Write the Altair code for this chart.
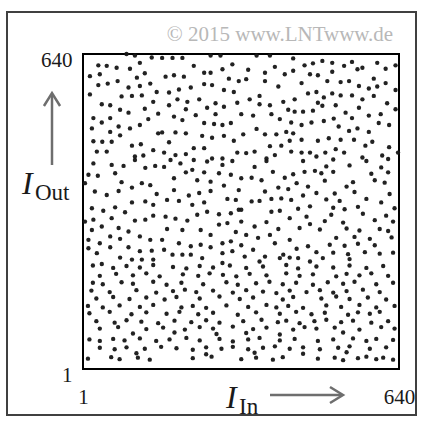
import altair as alt
import pandas as pd

# Interleaver mapping: input index -> output index (K = 640)
# Upper band (output index roughly 430..640)
in_upper = [
    89, 106, 140, 116, 32, 49, 69, 96, 15, 35, 110, 126, 32, 51, 71, 93, 116, 137,
    15, 79, 100, 120, 150, 39, 56, 143, 76, 93, 126, 153, 22, 56, 39, 133, 73, 96,
    116, 19, 56, 76, 153, 22, 40, 59, 100, 118, 29, 49, 106, 123, 143,
    161, 182, 202, 259, 279, 225, 303, 283, 168, 185, 205, 246, 259, 296, 316, 246,
    262, 175, 195, 219, 286, 306, 175, 192, 212, 236, 252, 269, 286, 209, 313, 185,
    202, 229, 269, 246, 266, 283, 300, 188, 209, 161, 242, 262, 286, 306, 175, 225,
    246, 188, 209, 165, 262, 283, 313,
    352, 379, 426, 466, 449, 335, 389, 409, 426, 369, 460, 476, 331, 369, 396, 443,
    358, 338, 358, 379, 406, 429, 456, 473, 476, 321, 345, 382, 399, 416, 429, 446,
    466, 422, 443, 463, 352, 369, 392, 412, 426, 325, 419, 443, 476, 379, 402, 331,
    348, 389, 422, 443, 460, 473, 372,
    485, 505, 529, 545, 566, 596, 613, 633, 556, 505, 495, 522, 539, 589, 613, 559,
    579, 596, 633, 488, 505, 522, 545, 566, 589, 485, 512, 616, 633, 532, 545, 559,
    579, 603, 488, 508, 518, 539, 556, 579, 599, 620, 498, 522, 549, 586, 572, 620,
    491, 512, 529, 566, 606, 638,
]
out_upper = [
    640, 637, 633, 622, 617, 616, 612, 610, 595, 599, 592, 601, 577, 580, 585, 572, 575, 580,
    558, 554, 555, 556, 563, 538, 536, 543, 527, 521, 529, 519, 510, 510, 501, 508, 493, 489,
    496, 489, 482, 475, 479, 463, 462, 462, 454, 457, 442, 442, 432, 434, 445,
    632, 632, 632, 637, 637, 616, 619, 609, 594, 597, 594, 602, 602, 590, 585, 579,
    577, 562, 568, 572, 567, 563, 536, 548, 543, 548, 531, 540, 533, 528, 541, 513,
    506, 516, 518, 500, 498, 496, 500, 481, 479, 481, 474, 470, 474, 464, 461, 449,
    449, 435, 437, 440, 428, 428, 440,
    637, 637, 631, 621, 617, 608, 614, 599, 606, 602, 599, 597, 589, 585, 574, 581,
    555, 548, 538, 536, 543, 548, 560, 563, 541, 518, 515, 518, 508, 527, 523, 523,
    525, 501, 496, 501, 488, 477, 477, 482, 479, 477, 464, 466, 464, 453, 454, 439,
    442, 435, 442, 440, 440, 432, 428,
    626, 622, 616, 624, 612, 622, 610, 617, 609, 604, 585, 583, 585, 590, 581, 575,
    570, 574, 567, 552, 560, 556, 556, 548, 555, 535, 536, 540, 528, 521, 510, 531,
    515, 518, 504, 509, 493, 484, 489, 482, 500, 496, 469, 466, 466, 462, 454, 451,
    440, 447, 440, 430, 434, 440,
]

# Middle band (output index roughly 214..430)
in_middle = [
    22, 59, 83, 106, 127, 147, 12, 31, 66, 5, 79, 100, 120, 137, 25, 49, 73, 150,
    100, 127, 143, 19, 42, 66, 86, 106, 127, 143, 22, 59, 5, 39, 19, 73, 93, 116,
    137, 12, 56, 76, 35, 93, 56, 12, 116, 140, 29, 76, 100, 120, 143, 39,
    178, 198, 225, 252, 283, 303, 165, 209, 222, 246, 276, 300, 185, 232, 259, 286,
    316, 185, 215, 236, 259, 171, 195, 222, 246, 293, 310, 168, 188, 212, 232, 252,
    276, 300, 316, 171, 202, 239, 259, 276, 293, 310, 161, 195, 219, 239, 259, 283,
    300, 165, 182, 202, 219, 242, 283, 303, 283,
    372, 446, 348, 385, 426, 449, 470, 321, 342, 362, 409, 433, 369, 396, 416, 456,
    473, 342, 358, 382, 402, 422, 446, 321, 382, 399, 419, 436, 460, 453, 321, 372,
    348, 396, 439, 460, 331, 355, 379, 419, 321, 345, 389, 433, 456, 406, 473, 328,
    369, 399, 419, 436, 358, 460,
    507, 574, 618, 493, 540, 604, 483, 507, 584, 618, 490, 547, 591, 611, 534, 510,
    550, 621, 493, 520, 574, 604, 507, 530, 557, 631, 503, 567, 614, 490, 527, 591,
    628, 480, 534, 560, 601, 618, 513, 550, 581, 625, 500, 530, 557, 591, 507, 537,
    571, 601, 628, 486, 540,
]
out_middle = [
    418, 415, 413, 425, 409, 413, 395, 393, 398, 378, 380, 369, 378, 374, 361, 354, 362, 356,
    339, 341, 334, 327, 322, 329, 319, 302, 304, 312, 304, 307, 300, 290, 283, 287, 280, 270,
    263, 263, 270, 265, 256, 248, 248, 246, 240, 241, 236, 227, 223, 223, 223, 214,
    425, 418, 425, 422, 415, 423, 411, 400, 405, 400, 398, 395, 388, 384, 381, 373,
    364, 364, 353, 358, 362, 344, 342, 334, 339, 346, 344, 310, 306, 302, 314, 320,
    315, 317, 324, 285, 283, 283, 273, 294, 297, 279, 263, 256, 250, 253, 248, 256,
    260, 243, 233, 233, 233, 226, 236, 240, 216,
    423, 423, 411, 401, 396, 401, 403, 388, 389, 384, 389, 378, 361, 369, 366, 371,
    358, 341, 342, 346, 347, 344, 353, 324, 320, 322, 307, 326, 331, 310, 300, 299,
    290, 285, 287, 295, 273, 267, 273, 263, 252, 243, 256, 245, 250, 233, 238, 229,
    229, 226, 227, 226, 219, 219,
    426, 423, 427, 412, 414, 410, 398, 401, 397, 400, 383, 380, 384, 379, 371, 357,
    360, 356, 345, 342, 346, 339, 328, 325, 330, 327, 314, 316, 312, 301, 298, 303,
    300, 284, 286, 282, 285, 281, 267, 269, 265, 268, 253, 251, 255, 252, 237, 234,
    238, 235, 237, 226, 224,
]

# Lower band (output index 1..214)
in_lower = [
    21, 62, 89, 116, 143, 183, 210, 237, 264, 298, 331, 365, 412, 436, 473, 507, 540, 574, 608,
    35, 68, 102, 129, 156, 203, 234, 257, 284, 311, 338, 372, 412, 439, 466, 513, 534, 560, 584, 618,
    21, 41, 79, 102, 143, 170, 200, 244, 291, 314, 351, 378, 405, 432, 466, 496, 527, 550, 594, 628,
    18, 55, 109, 149, 183, 207, 230, 264, 304, 331, 365, 392, 419, 453, 480, 507, 534, 567, 601,
    28, 62, 95, 129, 166, 190, 237, 277, 318, 345, 405, 426, 483, 513, 540, 577, 614,
    11, 41, 75, 116, 143, 200, 223, 250, 291, 335, 372, 392, 416, 446, 493, 523, 560, 594, 631,
    14, 55, 99, 129, 170, 196, 234, 264, 314, 351, 399, 432, 463, 490, 537, 557, 581, 601,
    28, 65, 89, 119, 153, 186, 220, 250, 277, 325, 362, 395, 412, 439, 469, 493, 523, 547, 584, 618,
    35, 72, 129, 163, 207, 237, 264, 304, 345, 372, 426, 449, 473, 510, 560, 604, 631,
    102, 186, 271, 331, 399, 527,
    14, 35, 62, 85, 116, 149, 176, 210, 237, 277, 304, 335, 358, 399, 429, 476, 507, 547, 574, 594, 628,
    35, 65, 89, 126, 159, 190, 223, 250, 281, 304, 335, 365, 389, 419, 446, 480, 517, 540, 581, 614,
    109, 250, 348, 446, 534,
    11, 58, 75, 112, 136, 223, 261, 321, 351, 385, 405, 476, 510, 527, 557, 574, 594, 608, 628,
]
out_lower = [
    211, 206, 210, 207, 212, 208, 205, 210, 207, 211, 206, 209, 212, 205, 209, 207, 211, 206, 210,
    190, 194, 191, 195, 189, 193, 190, 195, 192, 189, 194, 191, 195, 190, 193, 189, 194, 191, 195, 190,
    176, 173, 177, 174, 178, 172, 176, 173, 177, 172, 175, 178, 173, 176, 172, 177, 174, 178, 173, 176,
    160, 157, 161, 156, 159, 162, 157, 160, 156, 161, 158, 155, 160, 157, 161, 156, 159, 162, 157,
    144, 147, 143, 146, 142, 147, 144, 148, 143, 146, 142, 147, 144, 148, 143, 146, 142,
    129, 126, 130, 127, 131, 126, 129, 125, 130, 127, 131, 126, 129, 125, 130, 127, 131, 126, 129,
    114, 117, 112, 116, 113, 117, 112, 115, 111, 116, 113, 117, 112, 115, 111, 116, 113, 117,
    98, 95, 100, 97, 94, 99, 96, 100, 95, 98, 101, 96, 99, 94, 98, 101, 96, 99, 95, 98,
    83, 86, 82, 85, 81, 86, 83, 87, 82, 85, 81, 86, 83, 85, 81, 86, 83,
    73, 75, 72, 74, 71, 75,
    61, 58, 62, 59, 63, 58, 61, 64, 59, 62, 57, 61, 64, 59, 62, 58, 61, 63, 58, 62, 60,
    44, 41, 45, 42, 46, 43, 40, 45, 42, 46, 41, 44, 47, 42, 45, 41, 44, 47, 42, 45,
    33, 31, 34, 32, 35,
    22, 25, 21, 24, 20, 23, 26, 21, 24, 20, 25, 22, 24, 19, 23, 26, 21, 24, 20,
]

axis_ticks = [1, 640]
x_title, x_sub = "I", "In"
y_title, y_sub = "I", "Out"
copyright_note = "\u00a9 2015 www.LNTwww.de"

points = pd.DataFrame({
    "In": in_upper + in_middle + in_lower,
    "Out": out_upper + out_middle + out_lower,
})

W, H = 316, 315
SERIF = "Liberation Serif"
ARROW = "#6e6e6e"
INK = "#1a1a1a"

one = pd.DataFrame({"k": [0]})

scatter = alt.Chart(points).mark_circle(size=19, color="#161616", opacity=0.95).encode(
    x=alt.X("In:Q",
            scale=alt.Scale(domain=[1, 640], nice=False, zero=False),
            axis=alt.Axis(values=axis_ticks, title=None, domain=False, ticks=False, grid=False,
                          labelFont=SERIF, labelFontSize=21, labelColor=INK,
                          labelPadding=17, labelFlush=False, labelOverlap=False)),
    y=alt.Y("Out:Q",
            scale=alt.Scale(domain=[1, 640], nice=False, zero=False),
            axis=alt.Axis(values=axis_ticks, title=None, domain=False, ticks=False, grid=False,
                          labelFont=SERIF, labelFontSize=21, labelColor=INK,
                          labelPadding=11, labelOffset=6, labelFlush=False, labelOverlap=False)),
)

# Outer picture frame
outer = alt.Chart(one).mark_rect(fillOpacity=0, stroke="#404040", strokeWidth=2).encode(
    x=alt.value(-76), x2=alt.value(333), y=alt.value(-42), y2=alt.value(361)
)

note = alt.Chart(one).mark_text(font=SERIF, fontSize=21, color="#b8b8b8", align="center",
                                baseline="alphabetic", text=copyright_note).encode(
    x=alt.value(197), y=alt.value(-13)
)

# Vertical axis title with arrow
yt = alt.Chart(one).mark_text(font=SERIF, fontSize=32, fontStyle="italic", color=INK,
                              align="left", baseline="alphabetic", text=y_title).encode(
    x=alt.value(-61), y=alt.value(140)
)
ys = alt.Chart(one).mark_text(font=SERIF, fontSize=23, color=INK,
                              align="left", baseline="alphabetic", text=y_sub).encode(
    x=alt.value(-48), y=alt.value(146)
)
y_shaft = alt.Chart(one).mark_rule(color=ARROW, strokeWidth=2.5).encode(
    x=alt.value(-31), y=alt.value(40), y2=alt.value(111)
)
y_head = alt.Chart(one).mark_point(shape="M-0.62,1L0,0L0.62,1", size=676, filled=False,
                                   color=ARROW, strokeWidth=2.5, opacity=1).encode(
    x=alt.value(-31), y=alt.value(39)
)

# Horizontal axis title with arrow
xt = alt.Chart(one).mark_text(font=SERIF, fontSize=32, fontStyle="italic", color=INK,
                              align="left", baseline="alphabetic", text=x_title).encode(
    x=alt.value(143), y=alt.value(354)
)
xs = alt.Chart(one).mark_text(font=SERIF, fontSize=23, color=INK,
                              align="left", baseline="alphabetic", text=x_sub).encode(
    x=alt.value(156), y=alt.value(360)
)
x_shaft = alt.Chart(one).mark_rule(color=ARROW, strokeWidth=2.5).encode(
    x=alt.value(187), x2=alt.value(259), y=alt.value(341)
)
x_head = alt.Chart(one).mark_point(shape="M-1,-0.62L0,0L-1,0.62", size=676, filled=False,
                                   color=ARROW, strokeWidth=2.5, opacity=1).encode(
    x=alt.value(260), y=alt.value(341)
)

chart = alt.layer(
    outer, scatter, note, yt, ys, y_shaft, y_head, xt, xs, x_shaft, x_head
).properties(
    width=W, height=H,
    autosize=alt.AutoSizeParams(type="none"),
    padding={"left": 83, "top": 54, "right": 24, "bottom": 57},
    background="white",
).configure_view(
    stroke="#000000", strokeWidth=2
)

chart.save("out.html", embed_options={"renderer": "svg", "actions": False})
